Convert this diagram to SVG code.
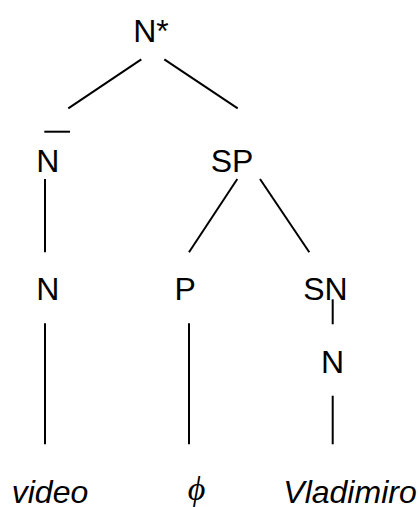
<svg xmlns="http://www.w3.org/2000/svg" width="418" height="507" viewBox="0 0 418 507">
  <style>
    .lbl { font-family: "Liberation Sans", Arial, sans-serif; font-size: 32px; fill: #000; text-anchor: middle; }
    .leaf { font-style: italic; }
    .sym { font-family: "Liberation Serif", "DejaVu Serif", serif; font-style: italic; font-size: 34px; fill: #000; text-anchor: middle; }
    .edge { stroke: #000; stroke-width: 2; fill: none; }
  </style>
  <rect width="418" height="507" fill="#fff"/>

  <!-- tree branches -->
  <g id="connectors">
    <line class="edge" x1="141.3" y1="59.3" x2="68.3" y2="108.3"/>
    <line class="edge" x1="164.3" y1="59.3" x2="237.7" y2="108.3"/>
    <line class="edge" x1="45" y1="179" x2="45" y2="252.3"/>
    <line class="edge" x1="237.3" y1="179" x2="189" y2="252.3"/>
    <line class="edge" x1="260" y1="179" x2="309.3" y2="252.3"/>
    <line class="edge" x1="45" y1="323.3" x2="45" y2="444.3"/>
    <line class="edge" x1="189" y1="323.3" x2="189" y2="444.3"/>
    <line class="edge" x1="332.7" y1="299.3" x2="332.7" y2="324.3"/>
    <line class="edge" x1="332.7" y1="395.7" x2="332.7" y2="444.3"/>
  </g>

  <!-- nodes -->
  <g id="n-star"><text class="lbl" x="151" y="42">N*</text></g>
  <g id="n-bar">
    <line class="edge" x1="44.3" y1="131.7" x2="70" y2="131.7"/>
    <text class="lbl" x="47.7" y="172.3">N</text>
  </g>
  <g id="sp"><text class="lbl" x="232" y="172.3">SP</text></g>
  <g id="n-left"><text class="lbl" x="47.7" y="299.5">N</text></g>
  <g id="p"><text class="lbl" x="185.2" y="299.5">P</text></g>
  <g id="sn"><text class="lbl" x="325.5" y="299.5">SN</text></g>
  <g id="n-right"><text class="lbl" x="332.5" y="373.3">N</text></g>
  <g id="leaf-video"><text class="lbl leaf" x="50" y="502.5">video</text></g>
  <g id="leaf-phi"><text class="sym" x="196.5" y="500">ϕ</text></g>
  <g id="leaf-vladimiro"><text class="lbl leaf" x="350" y="502.5">Vladimiro</text></g>
</svg>
